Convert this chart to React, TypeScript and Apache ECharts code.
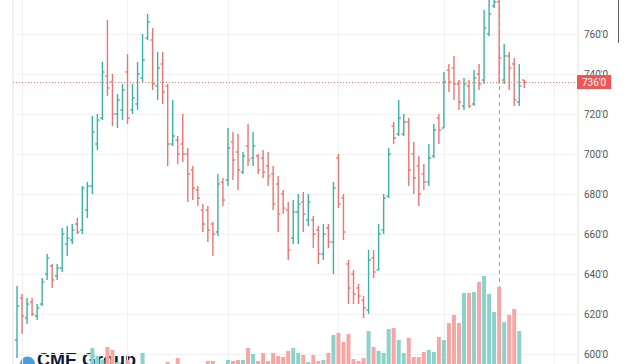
import React, { useEffect, useRef } from "react";
import * as echarts from "echarts";

// OHLC bars (daily), left to right
const opens = [
  607, 628, 618, 626, 619, 625, 640, 644, 639, 643, 655, 657, 665, 662, 672, 684, 705, 718, 739, 736,
  720, 722, 741, 722, 725, 738, 758, 757, 734, 745, 734, 705, 707, 705, 700, 692, 682, 672, 672, 665,
  661, 686, 687, 706, 701, 691, 704, 698, 699, 698, 694, 690, 685, 680, 672, 658, 671, 676, 667, 667,
  662, 650, 663, 656, 698, 678, 645, 640, 633, 627, 622, 648, 642, 662, 679, 714, 710, 710, 716, 700,
  694, 690, 686, 699, 718, 713, 742, 743, 735, 724, 734, 725, 740, 737, 760, 774, 776, 737, 749, 745,
  726, 737,
];
const highs = [
  634, 630, 628, 628, 625, 638, 650, 645, 645, 663, 664, 665, 668, 684, 686, 719, 720, 746, 767, 740,
  730, 735, 750, 735, 746, 760, 770, 763, 751, 751, 735, 727, 709, 720, 703, 694, 684, 675, 674, 666,
  690, 688, 713, 711, 710, 701, 715, 711, 700, 702, 701, 694, 689, 682, 676, 677, 680, 681, 680, 669,
  664, 665, 665, 686, 700, 680, 647, 642, 635, 629, 652, 652, 665, 680, 703, 716, 727, 720, 718, 706,
  699, 695, 705, 715, 720, 741, 745, 749, 737, 738, 737, 742, 745, 772, 780, 780, 782, 755, 751, 748,
  745, 737,
];
const lows = [
  598, 610, 615, 619, 617, 624, 637, 633, 637, 641, 649, 655, 660, 660, 668, 680, 702, 717, 729, 714,
  713, 717, 715, 720, 722, 736, 757, 732, 727, 725, 694, 704, 695, 696, 676, 677, 674, 661, 656, 649,
  659, 674, 684, 687, 682, 690, 694, 694, 690, 688, 684, 672, 661, 670, 647, 655, 655, 661, 664, 653,
  645, 647, 653, 640, 673, 657, 625, 625, 625, 618, 620, 638, 642, 660, 678, 705, 709, 709, 684, 680,
  674, 682, 684, 698, 705, 713, 731, 727, 722, 722, 723, 724, 732, 735, 759, 773, 735, 735, 732, 724,
  724, 733,
];
const closes = [
  624, 619, 625, 620, 623, 636, 648, 637, 643, 660, 658, 662, 661, 683, 684, 711, 717, 741, 733, 720,
  727, 732, 718, 728, 740, 747, 766, 735, 743, 731, 705, 709, 700, 700, 690, 683, 678, 665, 662, 660,
  685, 677, 703, 697, 692, 699, 697, 704, 692, 691, 689, 675, 670, 673, 652, 671, 675, 670, 676, 660,
  650, 660, 656, 683, 675, 661, 633, 630, 629, 623, 647, 641, 660, 678, 700, 708, 718, 716, 692, 688,
  680, 686, 698, 712, 712, 736, 736, 735, 726, 735, 724, 738, 735, 763, 770, 776, 748, 749, 743, 727,
  734, 736,
];
// Volume (thousands of contracts)
const volumes = [
  28, 30, 29, 31, 28, 32, 34, 31, 30, 34, 33, 32, 31, 34, 35, 52, 44, 40, 53, 50,
  38, 36, 40, 34, 34, 47, 34, 33, 34, 35, 38, 34, 42, 34, 36, 34, 34, 34, 39, 39,
  36, 35, 40, 39, 40, 40, 52, 46, 39, 47, 39, 47, 44, 43, 49, 52, 47, 45, 38, 45,
  39, 40, 47, 65, 67, 58, 66, 41, 39, 42, 69, 53, 49, 47, 71, 72, 60, 47, 62, 43,
  43, 48, 50, 48, 63, 60, 77, 85, 77, 107, 107, 108, 118, 124, 106, 88, 113, 78, 85, 91,
  69, 32,
];
// Month boundaries (bar index) used as vertical grid lines
const monthStarts = [1, 22, 42, 64, 85, 107];
// Price axis ticks
const priceMin = 580;
const priceMax = 780;
const priceStep = 20;
const lastPrice = 736;
const crosshairIndex = 96;

const UP = "#3ab3a6";
const DOWN = "#f07370";
const UP_VOL = "#8ad2ca";
const DOWN_VOL = "#f6a7a5";

// The chart canvas is taller than the window: it starts 6px above it
const OFFSET = 6;

export default function App() {
  const ref = useRef<HTMLDivElement>(null);

  useEffect(() => {
    if (!ref.current) return;
    const chart = echarts.init(ref.current, undefined, { renderer: "svg" });

    const ohlc = opens.map((o, i) => [i, o, highs[i], lows[i], closes[i]]);
    const vol = volumes.map((v, i) => ({
      value: [i, v],
      itemStyle: { color: closes[i] >= opens[i] ? UP_VOL : DOWN_VOL },
    }));

    const renderOHLC = (params: any, api: any) => {
      const i = api.value(0);
      const o = api.value(1);
      const h = api.value(2);
      const l = api.value(3);
      const c = api.value(4);
      const pH = api.coord([i, h]);
      const pL = api.coord([i, l]);
      const pO = api.coord([i, o]);
      const pC = api.coord([i, c]);
      const color = c >= o ? UP : DOWN;
      const x = pH[0];
      const t = 2.2;
      const lw = 1.4;
      return {
        type: "group",
        children: [
          { type: "line", shape: { x1: x, y1: pH[1], x2: x, y2: pL[1] }, style: { stroke: color, lineWidth: lw } },
          { type: "line", shape: { x1: x - t, y1: pO[1], x2: x, y2: pO[1] }, style: { stroke: color, lineWidth: lw } },
          { type: "line", shape: { x1: x, y1: pC[1], x2: x + t, y2: pC[1] }, style: { stroke: color, lineWidth: lw } },
        ],
      };
    };

    const xMin = -0.8;
    const xMax = 111.7;

    chart.setOption({
      animation: false,
      backgroundColor: "#ffffff",
      grid: [
        { left: 13, right: 62, top: 0, bottom: 10, show: true, borderColor: "#e2e2e2", borderWidth: 1 },
        { left: 13, right: 62, top: 100 + OFFSET, bottom: 4 },
      ],
      xAxis: [
        { type: "value", gridIndex: 0, min: xMin, max: xMax, show: false },
        { type: "value", gridIndex: 1, min: xMin, max: xMax, show: false },
      ],
      yAxis: [
        {
          type: "value",
          gridIndex: 0,
          position: "right",
          min: priceMin,
          max: priceMax,
          interval: priceStep,
          axisLine: { show: false },
          axisTick: { show: false },
          axisLabel: {
            formatter: (v: number) => `${v}'0`,
            color: "#555555",
            fontSize: 10,
            fontFamily: "Roboto",
            margin: 6,
            showMaxLabel: false,
            showMinLabel: false,
          },
          splitLine: { lineStyle: { color: "#f1f1f1", width: 1 } },
        },
        { type: "value", gridIndex: 1, min: 0, max: 300, show: false },
      ],
      series: [
        {
          type: "bar",
          xAxisIndex: 1,
          yAxisIndex: 1,
          data: vol,
          barWidth: 4,
          z: 1,
          silent: true,
        },
        {
          type: "scatter",
          xAxisIndex: 0,
          yAxisIndex: 0,
          data: [[0, 700]],
          symbolSize: 0,
          z: 1,
          silent: true,
          markLine: {
            silent: true,
            z: 1,
            symbol: ["none", "none"],
            label: { show: false },
            data: [
              ...monthStarts.map((m) => ({ xAxis: m, lineStyle: { color: "#f0f0f0", type: "solid", width: 1 } })),
              { xAxis: crosshairIndex, lineStyle: { color: "#9a9a9a", type: [4, 4], width: 1 } },
            ],
          },
        },
        {
          type: "custom",
          xAxisIndex: 0,
          yAxisIndex: 0,
          renderItem: renderOHLC,
          data: ohlc,
          encode: { x: 0, y: [1, 2, 3, 4] },
          z: 3,
          silent: true,
          markLine: {
            silent: true,
            z: 5,
            symbol: ["none", "none"],
            data: [
              {
                yAxis: lastPrice,
                lineStyle: { color: "#f07a76", type: [1, 2], width: 1 },
                label: {
                  show: true,
                  position: "end",
                  distance: -1,
                  formatter: `${lastPrice}'0`,
                  color: "#ffffff",
                  backgroundColor: "#f05454",
                  padding: [2, 5, 2, 5],
                  fontSize: 10,
                  fontFamily: "Roboto",
                },
              },
            ],
          },
        },
      ],
      graphic: [
        {
          type: "line",
          shape: { x1: 618.5, y1: OFFSET, x2: 618.5, y2: 43 + OFFSET },
          style: { stroke: "#666666", lineWidth: 1 },
          silent: true,
        },
        {
          type: "group",
          left: 20,
          top: 351 + OFFSET,
          silent: true,
          children: [
            { type: "circle", shape: { cx: 7.5, cy: 13, r: 7.5 }, style: { fill: "#4f9be0" } },
            {
              type: "text",
              x: 17,
              y: 0,
              style: {
                text: "CME Group",
                fill: "#0c1836",
                font: "bold 18px 'Liberation Sans', Arial, sans-serif",
              },
            },
          ],
        },
      ],
    });

    return () => chart.dispose();
  }, []);

  return (
    <div
      ref={ref}
      style={{ position: "fixed", left: 0, top: -OFFSET, width: 640, height: 410 }}
    />
  );
}
